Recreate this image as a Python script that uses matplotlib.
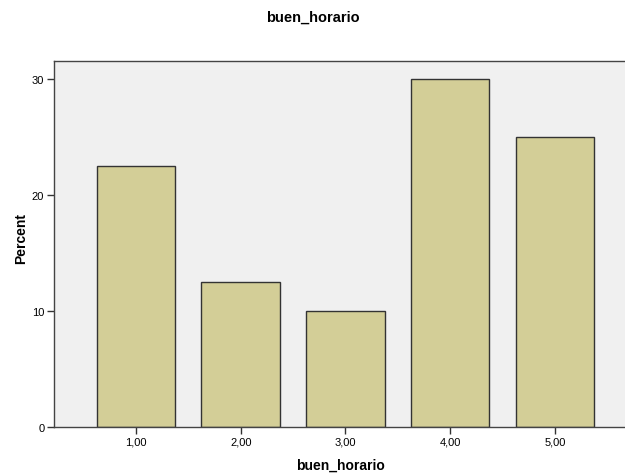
import matplotlib.pyplot as plt

# datos
categorias = ['1,00', '2,00', '3,00', '4,00', '5,00']
posiciones = [1, 2, 3, 4, 5]
porcentajes = [22.5, 12.5, 10.0, 30.0, 25.0]
ticks_y = [0, 10, 20, 30]

COLOR_FONDO = '#F0F0F0'
COLOR_BARRA = '#D3CE97'
COLOR_BORDE = '#333333'

plt.rcParams['font.family'] = ['Liberation Sans', 'DejaVu Sans']

fig = plt.figure(figsize=(6.25, 4.77), dpi=100)
ax = fig.add_axes([0.0864, 0.1027, 0.9136, 0.7673])
ax.set_facecolor(COLOR_FONDO)

ax.bar(posiciones, porcentajes, width=0.75, color=COLOR_BARRA,
       edgecolor=COLOR_BORDE, linewidth=1.0, zorder=2)

ax.set_xlim(0.217, 5.67)
ax.set_ylim(0, 31.55)
ax.set_xticks(posiciones)
ax.set_xticklabels(categorias)
ax.set_yticks(ticks_y)
ax.tick_params(axis='both', labelsize=8, length=5, width=1, color=COLOR_BORDE, pad=2)

ax.spines['right'].set_visible(False)
for lado in ['left', 'top', 'bottom']:
    ax.spines[lado].set_color('#444444')
    ax.spines[lado].set_linewidth(1.0)

# etiquetas de ejes y titulo en coordenadas de figura
fig.text(340 / 625, 1 - 466 / 477, 'buen_horario', ha='center', va='center',
         fontsize=10, fontweight='bold')
fig.text(21 / 625, 0.5, 'Percent', ha='center', va='center', rotation=90,
         fontsize=10, fontweight='bold')
fig.text(0.5, 1 - 18 / 477, 'buen_horario', ha='center', va='center',
         fontsize=10.5, fontweight='bold')

plt.savefig('out.png', dpi=100, facecolor='white')
